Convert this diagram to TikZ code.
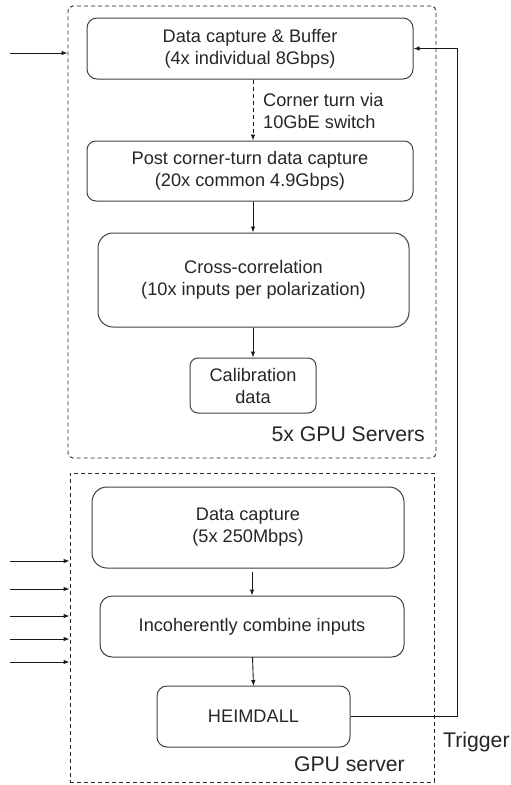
\documentclass[tikz,border=0pt]{standalone}
\usepackage{fontspec}
\setmainfont{Liberation Sans}
\usetikzlibrary{arrows.meta}
\begin{document}
\begin{tikzpicture}[x=1pt,y=-1pt,
  txt/.style={font=\fontsize{18.2}{22}\selectfont, text=black!85},
  bigtxt/.style={font=\fontsize{21.2}{25}\selectfont, text=black!85, inner sep=0},
  procbox/.style={draw=black!75, line width=1pt, txt, align=center, inner sep=0},
  group/.style={draw=black!85, line width=0.9pt, dash pattern=on 4pt off 3pt, inner sep=0},
  arr/.style={draw=black!90, line width=0.9pt, -{Latex[length=6pt,width=4.5pt]}},
  darr/.style={arr, dash pattern=on 4pt off 3pt}
]
\useasboundingbox (0,0) rectangle (511,785);
% group boxes
\node[group, rounded corners=5pt, minimum width=368pt, minimum height=452pt] (top) at (252,232) {};
\node[group, minimum width=364pt, minimum height=309pt] (bot) at (252,627.5) {};
% process boxes
\node[procbox, rounded corners=10pt, minimum width=326pt, minimum height=61pt] (b1) at (250,48.5) {Data capture \& Buffer\\(4x individual 8Gbps)};
\node[procbox, rounded corners=9pt, minimum width=326pt, minimum height=60pt] (b2) at (250,171) {Post corner-turn data capture\\(20x common 4.9Gbps)};
\node[procbox, rounded corners=15pt, minimum width=311pt, minimum height=94pt] (b3) at (253.5,280) {Cross-correlation\\(10x inputs per polarization)};
\node[procbox, rounded corners=8pt, minimum width=126pt, minimum height=55pt] (cal) at (253,385.5) {Calibration\\data};
\node[procbox, rounded corners=15pt, minimum width=312pt, minimum height=81pt] (b4) at (248,527.5) {Data capture\\(5x 250Mbps)};
\node[procbox, rounded corners=12pt, minimum width=304pt, minimum height=61pt] (b5) at (252,626.5) {Incoherently combine inputs};
\node[procbox, rounded corners=10pt, minimum width=193pt, minimum height=61pt] (heim) at (253.5,716.5) {HEIMDALL};
% labels
\node[txt, align=left, anchor=west, inner sep=0] (ct) at (263,111) {Corner turn via\\10GbE switch};
\node[bigtxt, anchor=base east] (lt) at (425,441) {5x GPU Servers};
\node[bigtxt, anchor=base east] (lb) at (405,771) {GPU server};
\node[bigtxt, anchor=base west] (trig) at (443,747) {Trigger};
% internal arrows
\coordinate (cx) at (253,0);
\draw[darr] (b1.south -| cx) -- (b2.north -| cx);
\draw[arr] (b2.south -| cx) -- (b3.north -| cx);
\draw[arr] (b3.south -| cx) -- (cal.north -| cx);
\coordinate (c4) at (252,572);
\draw[arr] (c4) -- (b5.north -| c4);
\coordinate (c5) at (252.5,657);
\draw[arr] (c5) -- (253.5,686);
% trigger
\coordinate (tc) at (457,0);
\draw[arr] (heim.east) -| (tc |- b1.east) -- (b1.east);
% inputs
\foreach \i/\y in {a/53} {
  \coordinate (in\i) at (10,\y);
  \draw[arr] (in\i) -- (in\i -| top.west);
}
\foreach \i/\y in {1/561,2/589,3/616,4/639,5/662} {
  \coordinate (inb\i) at (10,\y);
  \draw[arr] (inb\i) -- (inb\i -| bot.west);
}
\end{tikzpicture}
\end{document}
